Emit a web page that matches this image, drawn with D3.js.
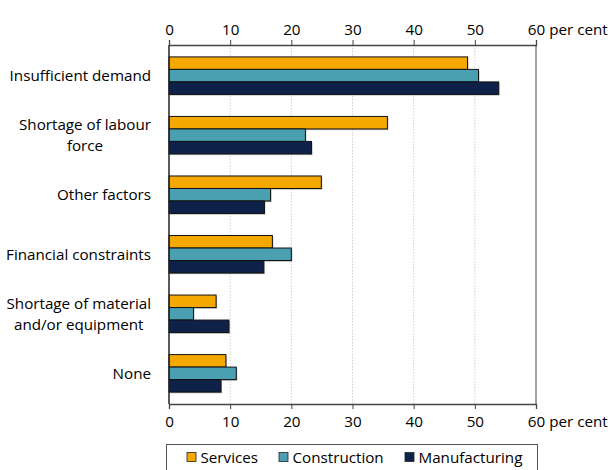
<!DOCTYPE html>
<html><head><meta charset="utf-8">
<script src="https://cdn.jsdelivr.net/npm/d3@7"></script>
<style>
body{margin:0;background:#fff;}
text{font-family:"Open Sans",sans-serif;fill:#000;}
</style></head>
<body><svg id="c" width="612" height="470"></svg>
<script>
const categories = [["Insufficient demand"],["Shortage of labour","force"],["Other factors"],["Financial constraints"],["Shortage of material","and/or equipment"],["None"]];
const seriesNames = ["Services","Construction","Manufacturing"];
const services = [48.8, 35.7, 24.9, 16.9, 7.7, 9.3];
const construction = [50.6, 22.3, 16.6, 20.0, 4.0, 11.0];
const manufacturing = [53.9, 23.3, 15.6, 15.5, 9.8, 8.5];
const colors = ["#F5A800","#4AA0B0","#0E2148"];
const tickValues = [0,10,20,30,40,50,60];
const unitLabel = "per cent";

const series = [services, construction, manufacturing];
const svg = d3.select("#c");
const FS = 15.2;
const FF = "'Open Sans', sans-serif";
const x = d3.scaleLinear().domain([0,60]).range([169,536]);
const y = d3.scaleBand().domain(d3.range(categories.length)).range([45,404]).paddingInner(0.37).paddingOuter(0.2);
const ys = d3.scaleBand().domain(d3.range(3)).range([0,y.bandwidth()]);

// gridlines
svg.append("g").selectAll("line").data(tickValues.slice(1,-1)).join("line")
  .attr("x1",d=>x(d)).attr("x2",d=>x(d)).attr("y1",45).attr("y2",404)
  .attr("stroke","#d0d0d0").attr("stroke-dasharray","1.5,1.5").attr("stroke-width",1);

// bars
const g = svg.append("g");
categories.forEach((c,i)=>{
  series.forEach((s,j)=>{
    const y0 = y(i)+ys(j), h = ys.bandwidth();
    g.append("rect").attr("x",x(0)+1).attr("y",y0+1.2).attr("width",x(s[i])-x(0)).attr("height",h)
      .attr("fill","#8a8a8a").attr("opacity",0.6);
    g.append("rect").attr("x",x(0)).attr("y",y0).attr("width",x(s[i])-x(0)).attr("height",h)
      .attr("fill",colors[j]).attr("stroke","#111").attr("stroke-width",1);
  });
});

// frame
svg.append("line").attr("x1",x(0)).attr("x2",x(0)).attr("y1",45).attr("y2",404).attr("stroke","#222").attr("stroke-width",1.5);
svg.append("line").attr("x1",x(60)).attr("x2",x(60)).attr("y1",45).attr("y2",404).attr("stroke","#444").attr("stroke-width",1);

const topAx = svg.append("g").attr("transform","translate(0,45)")
  .call(d3.axisTop(x).tickValues(tickValues).tickSize(5).tickPadding(5).tickFormat(d3.format("d")));
const botAx = svg.append("g").attr("transform","translate(0,404)")
  .call(d3.axisBottom(x).tickValues(tickValues).tickSize(5).tickPadding(7).tickFormat(d3.format("d")));
[topAx,botAx].forEach(a=>{
  a.select(".domain").attr("stroke","#444").attr("stroke-width",1.3);
  a.selectAll(".tick line").attr("stroke","#444");
  a.selectAll("text").attr("font-size",FS).attr("font-family",FF).attr("fill","#000");
  a.selectAll(".tick").filter(d=>d===60).each(function(){
    const t = d3.select(this).select("text");
    const w = t.node().getComputedTextLength();
    d3.select(this).append("text").attr("x",w/2+4).attr("y",t.attr("y")).attr("dy",t.attr("dy"))
      .attr("font-size",FS).attr("font-family",FF).attr("text-anchor","start").attr("fill","#000").text(unitLabel);
  });
});

// category labels (block right-aligned, lines centred within block)
const labelRight = 151;
categories.forEach((c,i)=>{
  const cy = y(i)+y.bandwidth()/2;
  const lh = 20.8;
  const t = svg.append("text").attr("text-anchor","middle").attr("font-size",FS);
  const spans = c.map((line,k)=>t.append("tspan").attr("y",cy + (k-(c.length-1)/2)*lh).attr("dy","0.35em").text(line));
  const maxW = d3.max(spans, s=>s.node().getComputedTextLength());
  spans.forEach(s=>s.attr("x", labelRight - maxW/2));
});

// legend
svg.append("rect").attr("x",166.5).attr("y",444.5).attr("width",371).attr("height",40)
  .attr("fill","#fff").attr("stroke","#555").attr("stroke-width",1);
const legX = [187, 279, 405];
seriesNames.forEach((n,j)=>{
  svg.append("rect").attr("x",legX[j]).attr("y",452.5).attr("width",9).attr("height",9)
    .attr("fill",colors[j]).attr("stroke","#222").attr("stroke-width",0.8);
  svg.append("text").attr("x",legX[j]+13.5).attr("y",462.5).attr("font-size",FS).text(n);
});
</script></body></html>
